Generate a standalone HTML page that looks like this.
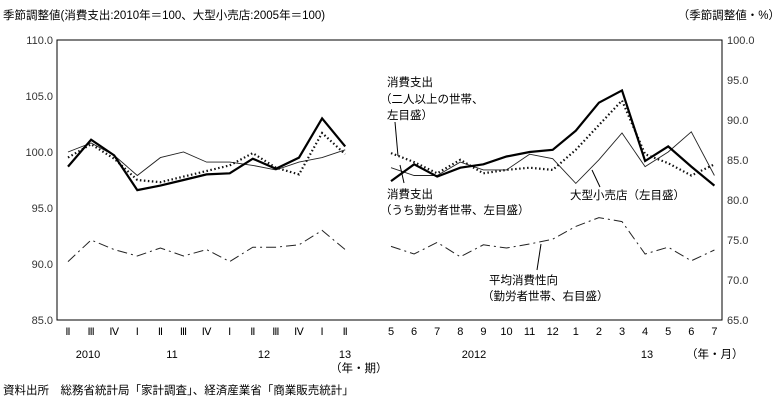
<!DOCTYPE html>
<html><head><meta charset="utf-8"><style>
html,body{margin:0;padding:0;background:#fff;}
svg{display:block;font-family:"Liberation Sans","Noto Sans CJK JP",sans-serif;}
</style></head><body>
<svg id="chart" width="783" height="403" viewBox="0 0 783 403">
<text x="3" y="19" font-size="11.5">季節調整値(消費支出:2010年＝100、大型小売店:2005年＝100)</text>
<text x="780" y="19" font-size="11.5" text-anchor="end">（季節調整値・%）</text>
<rect x="57" y="40" width="665" height="280" fill="none" stroke="#000" stroke-width="1"/>
<g id="ticks"></g>
<g id="series"></g>
<g font-size="11.5">
<text x="387" y="86">消費支出</text>
<text x="380" y="103">（二人以上の世帯、</text>
<text x="387" y="119">左目盛）</text>
<line x1="395" y1="122" x2="398" y2="156" stroke="#000"/>
<text x="387" y="198">消費支出</text>
<text x="380" y="214">（うち勤労者世帯、左目盛）</text>
<line x1="404" y1="183" x2="400" y2="165" stroke="#000"/>
<text x="570" y="199">大型小売店（左目盛）</text>
<line x1="600" y1="187" x2="592" y2="170" stroke="#000"/>
<text x="489" y="284">平均消費性向</text>
<text x="482" y="300">（勤労者世帯、右目盛）</text>
<line x1="537" y1="270" x2="541" y2="244" stroke="#000"/>
</g>
<text x="88" y="358" font-size="11" text-anchor="middle">2010</text>
<text x="172" y="358" font-size="11" text-anchor="middle">11</text>
<text x="264" y="358" font-size="11" text-anchor="middle">12</text>
<text x="345" y="358" font-size="11" text-anchor="middle">13</text>
<text x="330" y="372" font-size="11.5">（年・期）</text>
<text x="474" y="358" font-size="11" text-anchor="middle">2012</text>
<text x="647" y="358" font-size="11" text-anchor="middle">13</text>
<text x="686" y="358" font-size="11.5">（年・月）</text>
<text x="3" y="394" font-size="11.5">資料出所　総務省統計局「家計調査」、経済産業省「商業販売統計」</text>
</svg>
<script>
const qLabels=["Ⅱ","Ⅲ","Ⅳ","Ⅰ","Ⅱ","Ⅲ","Ⅳ","Ⅰ","Ⅱ","Ⅲ","Ⅳ","Ⅰ","Ⅱ"];
const mLabels=["5","6","7","8","9","10","11","12","1","2","3","4","5","6","7"];
const leftTicks=[85,90,95,100,105,110];
const rightTicks=[65,70,75,80,85,90,95,100];
const qWorkers=[98.7,101.1,99.7,96.6,97.0,97.5,98.0,98.1,99.4,98.5,99.5,103.0,100.5];
const qTotal=[99.5,100.7,99.4,97.5,97.3,97.8,98.3,98.8,99.9,98.6,98.0,101.7,99.8];
const qRetail=[100.0,100.8,99.7,97.9,99.5,100.0,99.1,99.1,98.8,98.4,99.1,99.5,100.2];
const qPropensity=[72.3,75.0,73.8,73.0,74.0,73.0,73.8,72.3,74.1,74.1,74.4,76.2,73.8];
const mWorkers=[97.4,98.9,97.8,98.6,98.9,99.6,100.0,100.2,101.9,104.4,105.5,99.2,100.5,98.7,97.0];
const mTotal=[99.9,99.1,98.1,99.3,98.1,98.4,98.6,98.4,100.2,102.4,104.6,99.8,99.0,97.9,98.9];
const mRetail=[98.6,97.9,97.9,99.1,98.4,98.4,99.8,99.4,97.2,99.3,101.7,98.7,100.0,101.8,97.9];
const mPropensity=[74.2,73.25,74.7,72.9,74.4,74.0,74.5,75.1,76.7,77.8,77.3,73.25,74.1,72.4,73.75];

const NS="http://www.w3.org/2000/svg";
const yL=v=>320-(v-85)*280/25;
const yR=v=>320-(v-65)*280/35;
const xQ=i=>68+i*23.1;
const xM=i=>391+i*23.1;
const tg=document.getElementById('ticks');
function mk(tag,attrs,parent){const e=document.createElementNS(NS,tag);for(const k in attrs)e.setAttribute(k,attrs[k]);parent.appendChild(e);return e;}
leftTicks.forEach(v=>{const t=mk('text',{x:53,y:yL(v)+4,'font-size':11,'text-anchor':'end',fill:'#333'},tg);t.textContent=v.toFixed(1);

});
rightTicks.forEach(v=>{const t=mk('text',{x:727,y:yR(v)+4,'font-size':11,fill:'#333'},tg);t.textContent=v.toFixed(1);

});
qLabels.forEach((s,i)=>{const t=mk('text',{x:xQ(i),y:335,'font-size':10.5,'text-anchor':'middle','font-family':'Liberation Serif, serif'},tg);t.textContent=s;

});
mLabels.forEach((s,i)=>{const t=mk('text',{x:xM(i),y:335,'font-size':11,'text-anchor':'middle'},tg);t.textContent=s;

});
const sg=document.getElementById('series');
function line(vals,xf,yf,style,name){const pts=vals.map((v,i)=>xf(i).toFixed(1)+','+yf(v).toFixed(1)).join(' ');
const p=mk('polyline',Object.assign({points:pts,fill:'none',stroke:'#000'},style),sg);

}
const sRetail={'stroke-width':0.9,stroke:'#222'};
const sWork={'stroke-width':2.2};
const sTot={'stroke-width':2.2,'stroke-dasharray':'1.5,2.5',stroke:'#111'};
const sProp={'stroke-width':1,'stroke-dasharray':'10,4,2,4',stroke:'#222'};
line(qRetail,xQ,yL,sRetail,'line-retail-quarterly');
line(qTotal,xQ,yL,sTot,'line-total-quarterly');
line(qWorkers,xQ,yL,sWork,'line-workers-quarterly');
line(qPropensity,xQ,yR,sProp,'line-propensity-quarterly');
line(mRetail,xM,yL,sRetail,'line-retail-monthly');
line(mTotal,xM,yL,sTot,'line-total-monthly');
line(mWorkers,xM,yL,sWork,'line-workers-monthly');
line(mPropensity,xM,yR,sProp,'line-propensity-monthly');
</script>
</body></html>
